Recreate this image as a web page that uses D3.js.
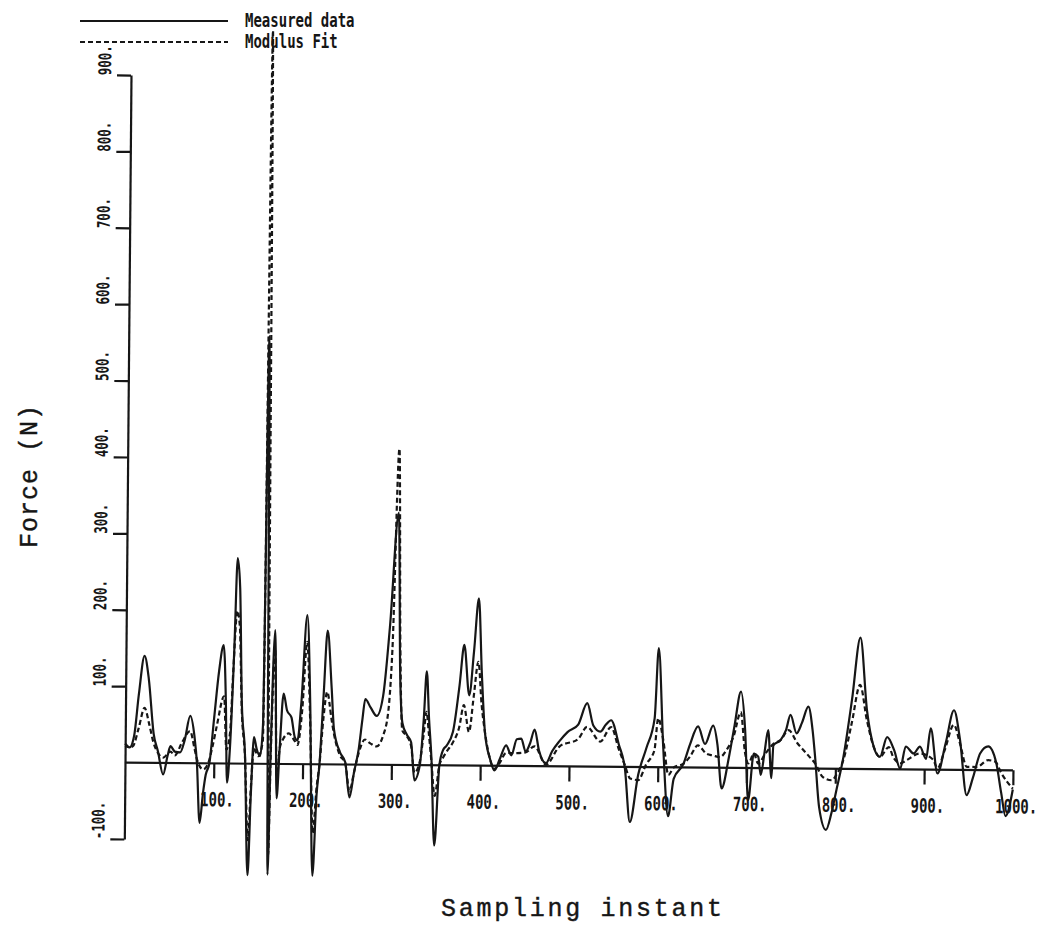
<!DOCTYPE html>
<html><head><meta charset="utf-8">
<script src="https://cdn.jsdelivr.net/npm/d3@7"></script>
<style>html,body{margin:0;padding:0;background:#fff;} svg{display:block;}</style>
</head><body>
<svg id="chart" width="1037" height="925"></svg>
<script>
// ---------- data ----------
const xTicks = [100,200,300,400,500,600,700,800,900,1000];
const xTickLabels = ["100.","200.","300.","400.","500.","600.","700.","800.","900.","1000."];
const yTicks = [-100,0,100,200,300,400,500,600,700,800,900];
const yTickLabels = ["-100.","","100.","200.","300.","400.","500.","600.","700.","800.","900."];
const legendLabels = ["Measured data","Modulus Fit"];
const xTitle = "Sampling instant";
const yTitle = "Force (N)";

const measuredSample = [0,5,10,15,21,26,32,37,43,48,51,56,62,67,73,78,81,84.5,88,91,95,100,105,110,113,115,118,122,125,128,131,135,139,142,145,148,152,155,158.5,161.5,164,168,171,174,178,182,187,191,194,198,204,208,212,216,219,223,227,232,235,242,248,253,258,263,267,270,276,283,290,297,306,309,312,317,322,326,332,336,339,342,345,349,354,358,362,369,376,381,387,392,397,401,405,411,416,422,429,435,441,446,451,456,461,466,474,481,489,498,510,520,527,535,541,547,556,563,569,578,587,596,600,606,612,618,629,636,645,653,662,667,672,680,686,693,698,702,708,713,716,720,724,728,730,738,744,749,756,762,769,774,777,782,790,796,801,809,818,827,835,843,850,858,866,873,879,888,895,902,907,915,924,933,940,948,955,963,972,981,987,992,1000];
const measuredForce = [22,20,35,90,140,110,38,15,-15,10,22,15,14,30,62,35,0,-78,-40,-15,0,60,120,155,80,-25,20,150,269,230,79,13,-146,-40,35,20,10,50,560,-145,20,175,-45,20,92,70,61,35,31,80,195,80,-146,-40,0,90,175,100,46,16,3,-43,-10,20,60,86,75,64,90,180,330,120,55,40,30,-20,0,60,123,60,10,-105,0,20,26,44,105,158,92,150,219,120,44,9,-6,9,27,14,35,36,19,30,48,21,4,20,33,45,55,83,54,46,55,61,29,-2,-72,-10,25,64,156,25,-64,-15,5,30,54,31,55,30,-27,14,55,100,50,-42,19,15,-9,20,50,-13,30,37,50,70,46,60,81,50,16,-50,-80,-58,-30,16,90,172,77,29,16,42,25,1,30,21,30,14,54,-5,35,78,40,-33,-10,22,31,10,-30,-60,-25];

const fitSample = [0,5,9,15,21.5,27,32,37,43,51,56,64,73,78,81,88,93,98,103,111,114,118,121,125,128,131,135,139,142,145,150,155,159.5,162,164,168,171,174,178,184,191,194,199,204,208,212,216,219,223,227,232,235,242,248,253,258,263,270,276,283,290,296,300,306,309,312,317,322,326,332,336,339,342,345,349,354,358,362,369,376,381,387,392,397,401,405,411,416,422,429,441,451,461,474,489,510,520,535,547,556,563,569,578,587,596,600,606,612,618,629,636,645,655,662,670,677,685,693,698,702,708,713,721,730,738,747,757,764,771,777,786,796,802,809,818,827,835,843,850,860,865,873,880,895,910,915,923,933,940,948,959,972,980,987,1000];
const fitForce = [25,20,22,45,72,50,26,13,7,15,10,27,42,20,5,-8,-2,20,49,88,18,40,120,200,180,70,10,-100,-30,20,10,30,960,-120,10,150,-20,20,33,40,30,25,70,160,60,-90,-30,0,60,95,60,40,12,2,-35,-10,15,33,28,24,37,70,150,414,150,45,38,25,-10,5,40,70,40,5,-40,0,10,18,30,50,79,44,90,136,80,44,9,-4,4,17,17,18,26,2,26,36,52,33,52,23,2,-15,-17,4,22,64,35,-10,0,5,14,29,18,16,14,23,41,73,21,6,19,6,19,32,37,50,33,24,15,7,-11,-15,-6,12,60,110,64,29,16,29,16,8,12,21,13,2,26,59,35,4,4,13,11,-4,-24];

// ---------- drawing ----------
const svg = d3.select("#chart");
const ink = "#161616";
const x = d3.scaleLinear().domain([0,1000]).range([125,1013]);
const y = d3.scaleLinear().domain([-100,900]).range([839,75]);

const plot = svg.append("g").attr("transform", `rotate(0.5, ${x(0)}, ${y(0)})`);

// y axis
const yAxis = d3.axisLeft(y).tickValues(yTicks.filter(d => d !== 0))
  .tickSize(14).tickSizeOuter(0)
  .tickFormat(d => yTickLabels[yTicks.indexOf(d)]);
const gy = plot.append("g").attr("transform", `translate(${x(0)},0)`).call(yAxis);
gy.selectAll("path,line").attr("stroke", ink).attr("stroke-width", 2.2);
gy.selectAll("text")
  .attr("x", null).attr("y", null).attr("dy", null)
  .attr("text-anchor", "start")
  .attr("transform", "translate(-20,0) rotate(-90) scale(1,1.4)")
  .attr("font-family", "DejaVu Sans Mono").attr("font-size", 12.5)
  .attr("font-weight", "bold")
  .attr("fill", ink);

// x axis (zero line)
const xAxis = d3.axisBottom(x).tickValues(xTicks).tickSize(15).tickSizeOuter(0)
  .tickFormat(d => xTickLabels[xTicks.indexOf(d)]);
const gx = plot.append("g").attr("transform", `translate(0,${y(0)})`).call(xAxis);
gx.select("path.domain").attr("d", `M${x(0)},0H${x(1000)}`);
gx.selectAll("path,line").attr("stroke", ink).attr("stroke-width", 2.2);
gx.selectAll("text")
  .attr("x", null).attr("y", null).attr("dy", null)
  .attr("text-anchor", "middle")
  .attr("transform", "translate(3,43) scale(1,1.4)")
  .attr("font-family", "DejaVu Sans Mono").attr("font-size", 14)
  .attr("font-weight", "bold")
  .attr("fill", ink);

// series
const line = (xs, ys) => d3.line()
  .x((d,i) => x(xs[i])).y((d,i) => y(ys[i]))
  .curve(d3.curveMonotoneX)(ys);

plot.append("path").attr("d", line(fitSample, fitForce))
  .attr("fill", "none").attr("stroke", ink).attr("stroke-width", 2.2)
  .attr("stroke-dasharray", "5,3").attr("stroke-linejoin", "round");
plot.append("path").attr("d", line(measuredSample, measuredForce))
  .attr("fill", "none").attr("stroke", ink).attr("stroke-width", 2.2)
  .attr("stroke-linejoin", "round");

// legend
const legend = svg.append("g");
const legendY = [21, 42];
legendLabels.forEach((lab, i) => {
  legend.append("line").attr("x1", 80).attr("x2", 228)
    .attr("y1", legendY[i]).attr("y2", legendY[i])
    .attr("stroke", ink).attr("stroke-width", 2)
    .attr("stroke-dasharray", i === 1 ? "5,3" : null);
  legend.append("text")
    .attr("transform", `translate(245,${legendY[i] + 6}) scale(1,1.35)`)
    .attr("font-family", "DejaVu Sans Mono").attr("font-size", 14)
    .attr("font-weight", "bold").attr("fill", ink).text(lab);
});

// axis titles
svg.append("text").attr("x", 441).attr("y", 916)
  .attr("font-family", "Liberation Mono").attr("font-size", 25)
  .attr("textLength", 281).attr("lengthAdjust", "spacing")
  .attr("fill", ink).attr("stroke", ink).attr("stroke-width", 0.4).text(xTitle);
svg.append("text")
  .attr("transform", "translate(37,548) rotate(-90)")
  .attr("font-family", "Liberation Mono").attr("font-size", 25)
  .attr("textLength", 143).attr("lengthAdjust", "spacing")
  .attr("fill", ink).attr("stroke", ink).attr("stroke-width", 0.4).text(yTitle);
</script>
</body></html>
